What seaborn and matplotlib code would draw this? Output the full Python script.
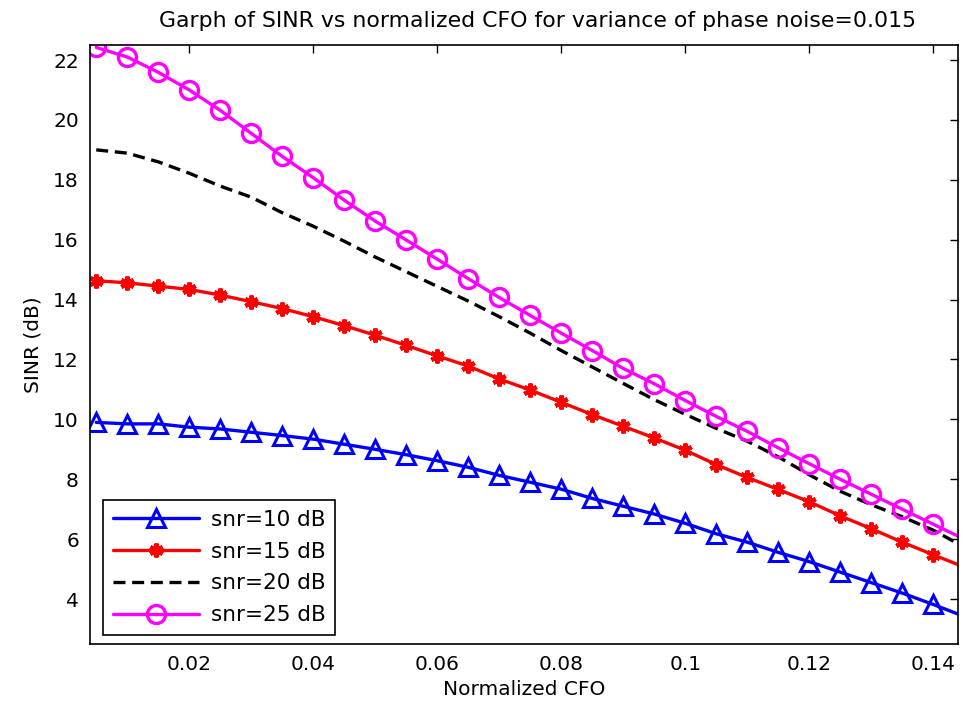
import numpy as np
import pandas as pd
import seaborn as sns
import matplotlib
matplotlib.use("Agg")
import matplotlib.pyplot as plt

# normalized CFO values (markers every 0.005, last point is the axis edge)
cfo = [0.005, 0.01, 0.015, 0.02, 0.025, 0.03, 0.035, 0.04, 0.045, 0.05,
       0.055, 0.06, 0.065, 0.07, 0.075, 0.08, 0.085, 0.09, 0.095, 0.1,
       0.105, 0.11, 0.115, 0.12, 0.125, 0.13, 0.135, 0.14, 0.144]

sinr_10 = [9.9, 9.85, 9.85, 9.74, 9.68, 9.57, 9.46, 9.34, 9.17, 9.0,
           8.82, 8.62, 8.4, 8.13, 7.9, 7.67, 7.36, 7.1, 6.84, 6.53,
           6.18, 5.9, 5.56, 5.25, 4.9, 4.55, 4.2, 3.82, 3.5]
sinr_15 = [14.63, 14.56, 14.45, 14.34, 14.15, 13.93, 13.7, 13.43, 13.13, 12.81,
           12.47, 12.12, 11.78, 11.35, 10.98, 10.57, 10.16, 9.77, 9.38, 8.97,
           8.49, 8.06, 7.66, 7.25, 6.78, 6.35, 5.9, 5.48, 5.15]
sinr_20 = [19.0, 18.89, 18.6, 18.22, 17.79, 17.42, 16.9, 16.45, 15.95, 15.42,
           14.93, 14.44, 13.95, 13.43, 12.88, 12.3, 11.75, 11.2, 10.66, 10.17,
           9.7, 9.27, 8.75, 8.15, 7.6, 7.15, 6.75, 6.3, 5.85]
sinr_25 = [22.42, 22.1, 21.59, 21.0, 20.32, 19.55, 18.78, 18.07, 17.32, 16.62,
           15.99, 15.35, 14.7, 14.07, 13.47, 12.88, 12.3, 11.7, 11.19, 10.63,
           10.1, 9.6, 9.05, 8.52, 8.0, 7.5, 7.0, 6.5, 6.1]

labels = ["snr=10 dB", "snr=15 dB", "snr=20 dB", "snr=25 dB"]
xticks = [0.02, 0.04, 0.06, 0.08, 0.1, 0.12, 0.14]
xtick_labels = ["0.02", "0.04", "0.06", "0.08", "0.1", "0.12", "0.14"]
yticks = [4, 6, 8, 10, 12, 14, 16, 18, 20, 22]

sns.set_theme()
sns.set_style("white")
plt.rcParams['font.family'] = ['DejaVu Sans']
plt.rcParams['text.color'] = 'black'
fontsize = 14.5

fig = plt.figure(figsize=(9.64, 7.08), dpi=100)
ax = fig.add_axes([0.0934, 0.0904, 0.9004, 0.846])

colors = ["#0000ff", "#ff0000", "#000000", "#ff00ff"]
# marker, size, edge width, filled
marker_styles = [
    ("^", 13, 2.2, False),
    ((6, 2, 0), 10, 3.0, True),
    (None, 0, 0, False),
    ("o", 13, 2.4, False),
]

for ys, lab, col, mst in zip([sinr_10, sinr_15, sinr_20, sinr_25], labels,
                             colors, marker_styles):
    df = pd.DataFrame({"cfo": cfo, "sinr": ys})
    sns.lineplot(data=df, x="cfo", y="sinr", ax=ax, label=lab, color=col,
                 linewidth=2.4, sort=False)
    line = ax.lines[-1]
    line.set_linestyle("-")
    m, ms, mew, filled = mst
    if m is None:
        line.set_linestyle((0, (3.6, 2.0)))
    else:
        line.set_marker(m)
        line.set_markersize(ms)
        line.set_markeredgewidth(mew)
        line.set_markeredgecolor(col)
        line.set_markerfacecolor(col if filled else "none")
        line.set_markevery(slice(0, len(cfo) - 1))

ax.set_xlim(0.004, 0.144)
ax.set_ylim(2.5, 22.5)
ax.set_xticks(xticks)
ax.set_xticklabels(xtick_labels)
ax.set_yticks(yticks)
ax.tick_params(direction="in", length=6, width=1, top=True, right=True,
               labelsize=fontsize, colors="black", pad=8)
for sp in ax.spines.values():
    sp.set_color("black")
    sp.set_linewidth(1.2)

ax.set_xlabel("Normalized CFO", fontsize=fontsize, color="black", labelpad=4)
ax.set_ylabel("SINR (dB)", fontsize=fontsize, color="black", labelpad=8)
ax.set_title("Garph of SINR vs normalized CFO for variance of phase noise=0.015",
             fontsize=15.8, color="black", pad=13, x=0.515)

leg = ax.legend(handles=ax.lines[:4], labels=labels, loc="lower left",
                bbox_to_anchor=(0.015, 0.015), borderaxespad=0,
                fontsize=15.5, handlelength=4.0, frameon=True,
                fancybox=False, framealpha=1, edgecolor="black",
                labelspacing=0.55, handletextpad=0.55, borderpad=0.45)
leg.get_frame().set_linewidth(1.2)
for t in leg.get_texts():
    t.set_color("black")

fig.savefig("out.png", dpi=100)
